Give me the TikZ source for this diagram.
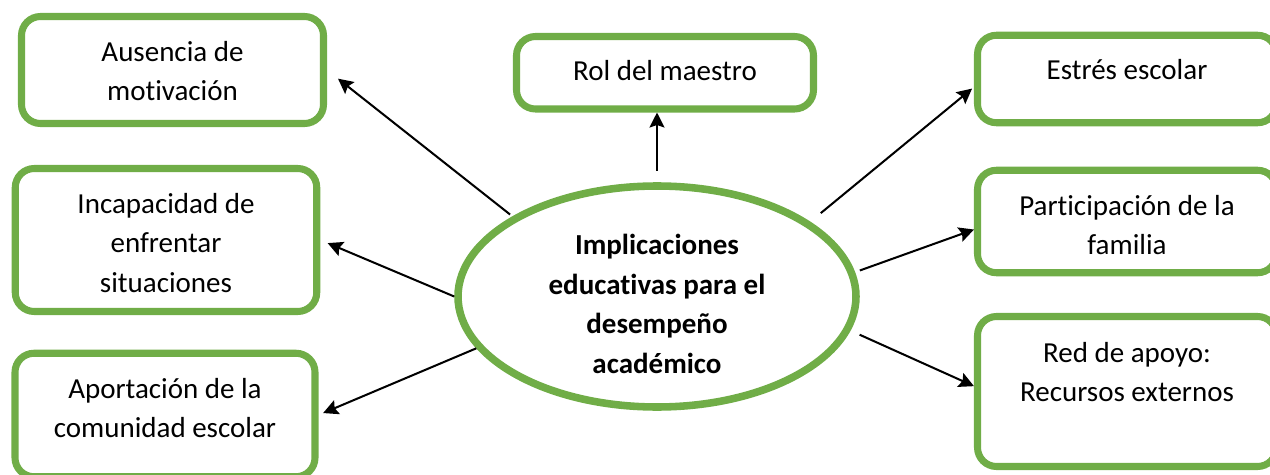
\documentclass[tikz,border=0pt]{standalone}
\usepackage{fontspec}
\setmainfont[Ligatures=NoCommon]{Carlito}
\usepackage{tikz}
\usetikzlibrary{shapes,arrows.meta,positioning}
\usepackage{xcolor}
\definecolor{boxgreen}{RGB}{112, 173, 71}

\begin{document}
\begin{tikzpicture}[
    factor/.style={rectangle, draw=boxgreen, line width=4pt, rounded corners=0.38cm, fill=white},
    factortext/.style={inner sep=0pt, align=center, font=\fontsize{16.5}{22.3}\selectfont},
    core/.style={ellipse, draw=boxgreen, line width=4.3pt, fill=white, inner sep=0pt},
    arrow/.style={-{Stealth[length=0.3cm, width=0.3cm, inset=0.05cm]}, line width=1.15pt}
]
    \clip (0, 0) rectangle (25.4, -9.5);

    % Central topic
    \node[core, minimum width=7.96cm, minimum height=4.42cm] (implic) at (13.14, -5.93) {};
    \node[factortext, font=\fontsize{16.5}{22.6}\selectfont\bfseries, below=0.88cm of implic.north] (implicT) {\strut Implicaciones\\educativas para el\\desempeño\\académico};

    % Left factors
    \node[factor, minimum width=6.04cm, minimum height=2.14cm] (ausencia) at (3.45, -1.40) {};
    \node[factor, minimum width=6.03cm, minimum height=2.86cm] (incap) at (3.32, -4.80) {};
    \node[factor, minimum width=6.0cm, minimum height=2.47cm] (aport) at (3.30, -8.30) {};

    % Top factor
    \node[factor, minimum width=5.94cm, minimum height=1.45cm] (rol) at (13.30, -1.455) {};

    % Right factors
    \node[factor, minimum width=5.98cm, minimum height=1.75cm] (estres) at (22.54, -1.58) {};
    \node[factor, minimum width=5.98cm, minimum height=2.05cm] (partic) at (22.54, -4.43) {};
    \node[factor, minimum width=5.98cm, minimum height=3.0cm] (red) at (22.54, -7.83) {};

    % Texts
    \node[factortext, below=0.42cm of ausencia.north] (ausenciaT) {\strut Ausencia de\\motivación};
    \node[factortext, below=0.42cm of incap.north] (incapT) {\strut Incapacidad de\\enfrentar\\situaciones};
    \node[factortext, below=0.42cm of aport.north] (aportT) {\strut Aportación de la\\comunidad escolar};
    \node[factortext, below=0.40cm of rol.north] (rolT) {\strut Rol del maestro};
    \node[factortext, below=0.40cm of estres.north] (estresT) {\strut Estrés escolar};
    \node[factortext, below=0.42cm of partic.north] (particT) {\strut Participación de la\\familia};
    \node[factortext, below=0.44cm of red.north] (redT) {\strut Red de apoyo:\\Recursos externos};

    % Arrows
    \draw[arrow, shorten <=0.06cm, shorten >=0.28cm] (implic.151) -- (ausencia.east);
    \draw[arrow, shorten >=0.16cm] (implic.180) -- (incap.east);
    \draw[arrow, shorten >=0.1cm] (implic.196) -- (aport.east);
    \draw[arrow, shorten <=0.23cm] (implic.north) -- (implic.north |- rol.south);
    \draw[arrow, shorten <=0.27cm, shorten >=0.05cm] (implic.26) -- (estres.183);
    \draw[arrow, shorten <=0.1cm] (implic.7) -- (partic.183);
    \draw[arrow, shorten <=0.2cm] (implic.-10) -- (red.178);
\end{tikzpicture}
\end{document}
